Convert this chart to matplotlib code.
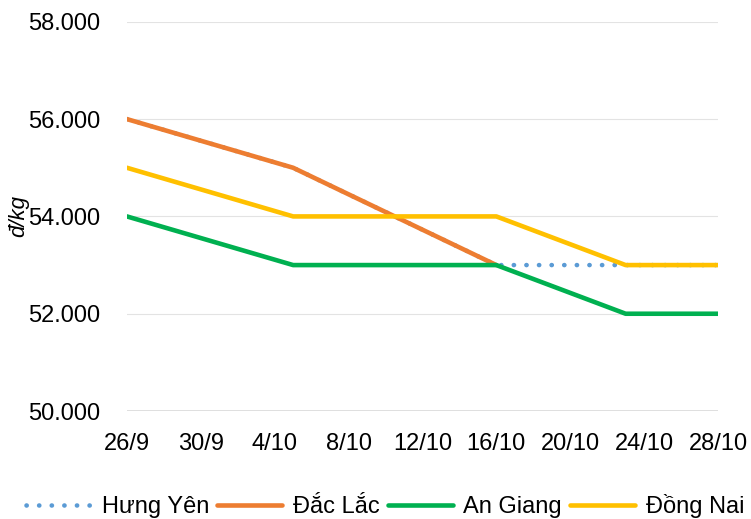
import matplotlib
matplotlib.use("Agg")
import matplotlib.pyplot as plt
import pandas as pd

plt.rcParams['font.family'] = ['Liberation Sans', 'DejaVu Sans']

# data (đ/kg)
dates = pd.to_datetime(["2019-09-26", "2019-10-05", "2019-10-16", "2019-10-23", "2019-10-28"])
hung_yen = [56000, 55000, 53000, 53000, 53000]
dac_lac = [56000, 55000, 53000]
an_giang = [54000, 53000, 53000, 52000, 52000]
dong_nai = [55000, 54000, 54000, 53000, 53000]

tick_dates = pd.date_range("2019-09-26", "2019-10-28", freq="4D")
tick_labels = [f"{d.day}/{d.month}" for d in tick_dates]
y_ticks = [50000, 52000, 54000, 56000, 58000]

fig = plt.figure(figsize=(7.51, 5.19), dpi=100)
ax = fig.add_axes([0.169, 0.208, 0.787, 0.750])

lw = 3.3
ax.plot(dates, hung_yen, color="#5B9BD5", lw=lw, linestyle=(0, (0.05, 2.7)),
        dash_capstyle="round", label="Hưng Yên", zorder=2)
ax.plot(dates[:len(dac_lac)], dac_lac, color="#ED7D31", lw=lw, solid_capstyle="round",
        label="Đắc Lắc", zorder=3)
ax.plot(dates, an_giang, color="#00B050", lw=lw, solid_capstyle="round",
        label="An Giang", zorder=3)
ax.plot(dates, dong_nai, color="#FFC000", lw=lw, solid_capstyle="round",
        label="Đồng Nai", zorder=3)

ax.set_xlim(tick_dates[0], tick_dates[-1])
ax.set_ylim(50000, 58000)
ax.set_xticks(tick_dates)
ax.set_xticklabels(tick_labels)
ax.set_yticks(y_ticks)
ax.set_yticklabels([f"{v:,}".replace(",", ".") for v in y_ticks])
ax.tick_params(axis="both", length=0, labelsize=17, colors="black")
ax.tick_params(axis="x", pad=16)
ax.tick_params(axis="y", pad=19)

ax.grid(axis="y", color="#E3E3E3", lw=0.8)
ax.set_axisbelow(True)
for s in ax.spines.values():
    s.set_visible(False)
ax.axhline(50000, color="#D9D9D9", lw=1.2, zorder=1)

ax.set_ylabel("đ/kg", fontsize=16, style="italic")
ax.yaxis.set_label_coords(-0.165, 0.5)

fig.legend(loc="center", bbox_to_anchor=(0.513, 0.025), ncol=4, frameon=False,
           fontsize=17, handlelength=2.75, handletextpad=0.45, columnspacing=0.35)

fig.savefig("out.png", dpi=100)
